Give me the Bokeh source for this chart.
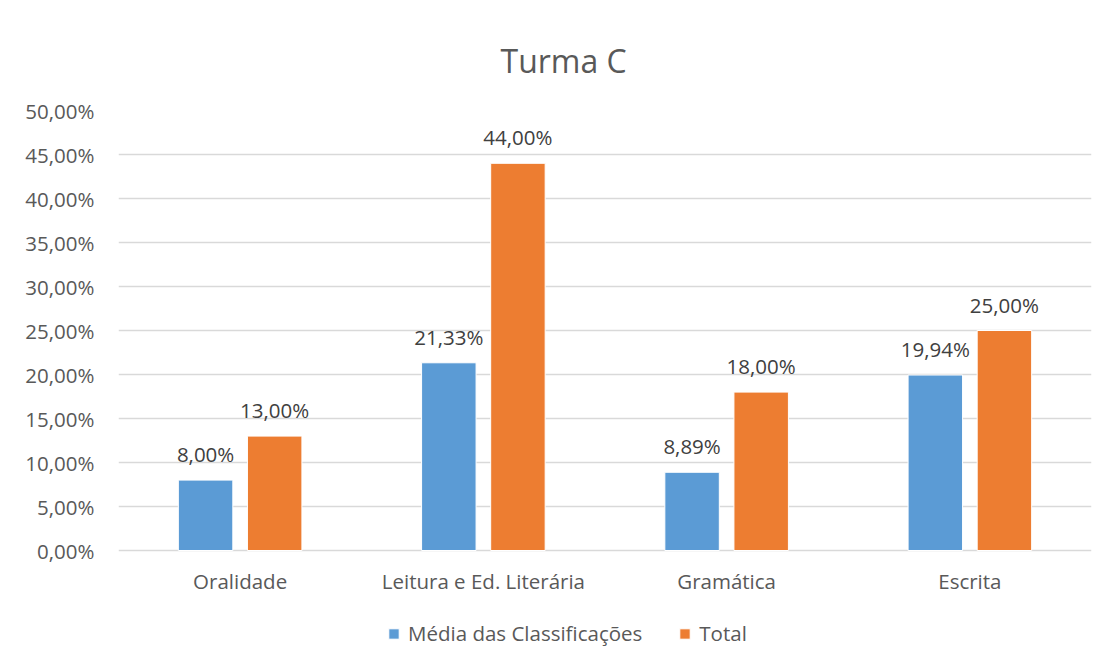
from bokeh.plotting import figure
from bokeh.models import (ColumnDataSource, FactorRange, Range1d, FixedTicker,
                          Legend, LegendItem)
from bokeh.transform import dodge
from bokeh.core.properties import value
from bokeh.embed import file_html
from bokeh.resources import INLINE

title = "Turma C"
categories = ["Oralidade", "Leitura e Ed. Literária", "Gramática", "Escrita"]
series_names = ["Média das Classificações", "Total"]
media = [8.00, 21.33, 8.89, 19.94]
total = [13.00, 44.00, 18.00, 25.00]
y_ticks = [0, 5, 10, 15, 20, 25, 30, 35, 40, 45, 50]
y_tick_labels = ["0,00%", "5,00%", "10,00%", "15,00%", "20,00%", "25,00%",
                 "30,00%", "35,00%", "40,00%", "45,00%", "50,00%"]

BLUE = "#5B9BD5"
ORANGE = "#ED7D31"
GRID = "#D9D9D9"
TXT = "#595959"
FONT = "Open Sans"
FS = "20.5px"

# layout (pixels)
PLOT_H = 440          # height of the 0..50 % area
EXTRA_H = 99          # room below the 0 line for category labels + legend
Y_MAX = 50
y_min = -EXTRA_H * Y_MAX / PLOT_H


def fmt(v):
    return f"{v:.2f}".replace(".", ",") + "%"


src = ColumnDataSource(dict(
    cat=categories,
    zero=[0] * len(categories),
    media=media,
    total=total,
    media_lbl=[fmt(v) for v in media],
    total_lbl=[fmt(v) for v in total],
))

p = figure(x_range=FactorRange(*categories), y_range=Range1d(y_min, Y_MAX),
           frame_width=973, frame_height=PLOT_H + EXTRA_H,
           min_border_left=118, min_border_right=1,
           min_border_top=110, min_border_bottom=0,
           output_backend="svg", toolbar_location=None)

p.title.text = title
p.title.align = "left"
p.title.text_font = FONT
p.title.text_font_size = "32px"
p.title.text_font_style = "normal"
p.title.text_color = TXT
p.title.standoff = 58
p.title.offset = 382

off = 0.142
w = 0.224
r1 = p.vbar(x=dodge("cat", -off, range=p.x_range), top="media", width=w,
            source=src, fill_color=BLUE, line_color="white", line_width=1)
r2 = p.vbar(x=dodge("cat", off, range=p.x_range), top="total", width=w,
            source=src, fill_color=ORANGE, line_color="white", line_width=1)

for col, lbl, o in (("media", "media_lbl", -off), ("total", "total_lbl", off)):
    p.text(x=dodge("cat", o, range=p.x_range), y=col, text=lbl, source=src,
           text_align="center", text_baseline="middle", y_offset=-26,
           text_font=value(FONT), text_font_size=FS, text_color="#404040")

# category labels under the zero line
p.text(x="cat", y="zero", text="cat", source=src,
       text_align="center", text_baseline="middle", y_offset=30,
       text_font=value(FONT), text_font_size=FS, text_color=TXT)

p.outline_line_color = None
p.background_fill_color = "white"
p.border_fill_color = "white"

p.xgrid.grid_line_color = None
p.ygrid.grid_line_color = GRID
p.ygrid.grid_line_width = 1.5
p.xaxis.visible = False

p.yaxis.ticker = FixedTicker(ticks=y_ticks)
p.yaxis.major_label_overrides = {t: s for t, s in zip(y_ticks, y_tick_labels)}
p.yaxis.axis_line_color = None
p.yaxis.major_tick_line_color = None
p.yaxis.minor_tick_line_color = None
p.yaxis.major_tick_out = 0
p.yaxis.major_label_standoff = 24
p.yaxis.major_label_text_font = FONT
p.yaxis.major_label_text_font_size = FS
p.yaxis.major_label_text_color = TXT

legend = Legend(items=[LegendItem(label=series_names[0], renderers=[r1]),
                       LegendItem(label=series_names[1], renderers=[r2])],
                orientation="horizontal", location=(269, 2),
                glyph_width=13, glyph_height=13, label_standoff=8, spacing=36,
                label_text_font=FONT, label_text_font_size=FS,
                label_text_color=TXT, border_line_color=None,
                background_fill_alpha=0, margin=0, padding=2)
p.add_layout(legend)

open("out.html", "w").write(file_html(p, INLINE))
